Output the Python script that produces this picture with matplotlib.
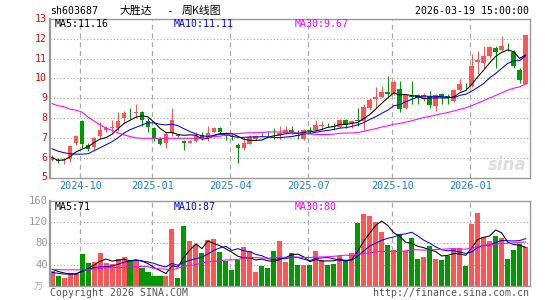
import matplotlib
matplotlib.use("Agg")
import matplotlib.pyplot as plt
import numpy as np
import pandas as pd

W, H = 545, 300

# weekly candles
opens = [5.87, 5.87, 5.87, 5.93, 6.73, 7.87, 6.65, 6.53, 7.07, 7.42,
         7.50, 7.50, 8.00, 8.28, 8.27, 8.33, 7.87, 7.48, 6.95, 6.73,
         7.23, 7.15, 6.82, 6.73, 6.83, 7.13, 7.00, 7.28, 7.48, 7.17,
         7.10, 6.62, 6.50, 6.70, 6.95, 7.15, 7.20, 7.17, 7.17, 7.25,
         7.42, 7.17, 6.93, 7.37, 7.40, 7.60, 7.66, 7.60, 7.53, 7.92,
         7.75, 7.88, 7.83, 8.50, 8.97, 9.07, 9.32, 9.23, 9.45, 8.50,
         9.10, 9.15, 9.03, 9.12, 8.62, 9.20, 9.12, 8.87, 9.40, 9.72,
         9.62, 10.85, 10.78, 11.12, 11.53, 11.45, 11.60, 11.33, 10.45, 9.73]
highs = [6.12, 6.00, 5.98, 6.62, 7.17, 7.90, 6.73, 7.03, 7.78, 7.62,
         7.90, 8.33, 8.37, 8.53, 8.73, 8.37, 8.00, 7.53, 7.03, 7.28,
         8.50, 7.20, 6.90, 6.90, 7.28, 7.28, 7.62, 7.57, 7.57, 7.28,
         7.20, 6.73, 7.05, 7.12, 7.17, 7.23, 7.37, 7.50, 7.62, 7.62,
         7.62, 7.42, 7.45, 7.57, 7.92, 7.87, 7.75, 7.73, 7.95, 7.95,
         7.92, 8.53, 8.73, 9.00, 9.57, 9.62, 10.12, 9.90, 9.87, 9.20,
         9.87, 9.20, 9.28, 9.37, 9.23, 9.28, 9.23, 9.45, 9.95, 9.78,
         11.23, 11.40, 11.62, 11.62, 11.62, 12.12, 11.78, 11.45, 10.53, 12.17]
lows = [5.83, 5.73, 5.70, 5.78, 6.62, 6.50, 6.33, 6.40, 6.95, 7.28,
        7.28, 7.37, 7.73, 7.95, 8.00, 7.62, 7.28, 6.83, 6.62, 6.50,
        7.07, 7.03, 6.37, 6.73, 6.78, 6.87, 6.83, 7.28, 7.20, 6.87,
        6.87, 5.73, 6.40, 6.67, 6.90, 7.07, 7.07, 6.95, 6.95, 7.20,
        7.20, 6.92, 6.87, 7.23, 7.37, 7.45, 7.53, 7.40, 7.50, 7.50,
        7.50, 7.62, 7.42, 8.42, 8.50, 9.03, 9.03, 9.17, 8.33, 8.45,
        8.73, 8.73, 8.87, 8.53, 8.37, 8.73, 8.73, 8.83, 9.37, 9.40,
        9.57, 10.20, 10.53, 11.03, 10.53, 11.40, 11.37, 10.53, 9.78, 9.70]
closes = [6.02, 5.82, 5.95, 6.57, 7.10, 6.70, 6.45, 7.00, 7.42, 7.50,
          7.55, 7.87, 8.27, 8.25, 8.30, 7.90, 7.57, 6.95, 6.70, 7.20,
          7.92, 7.10, 6.73, 6.82, 7.07, 7.00, 7.25, 7.48, 7.28, 7.10,
          7.03, 6.50, 6.73, 7.03, 7.07, 7.13, 7.18, 7.12, 7.23, 7.42,
          7.28, 7.07, 7.42, 7.35, 7.65, 7.63, 7.63, 7.57, 7.92, 7.67,
          7.87, 7.85, 8.57, 8.92, 9.07, 9.32, 9.20, 9.82, 8.45, 9.15,
          9.05, 9.03, 9.17, 8.67, 9.15, 9.07, 9.03, 9.40, 9.73, 9.70,
          10.62, 10.92, 11.12, 11.57, 11.33, 11.62, 11.57, 10.65, 9.90, 12.17]
# volume, 万手
volumes = [27.7, 18.9, 14.5, 24.6, 22.0, 59.8, 42.8, 44.7, 61.7, 42.8,
           40.3, 51.0, 54.2, 47.2, 47.2, 34.0, 25.8, 18.3, 18.3, 18.3,
           107.0, 14.5, 112.8, 84.4, 76.9, 61.7, 86.3, 88.8, 63.6, 47.2,
           29.6, 49.1, 73.0, 65.5, 25.8, 37.8, 33.4, 65.5, 85.0, 45.4,
           62.4, 39.7, 39.7, 39.7, 66.0, 48.5, 39.7, 41.6, 56.0, 47.9,
           62.4, 119.0, 136.0, 132.0, 121.0, 102.0, 77.5, 68.0, 98.0, 65.0,
           90.7, 51.0, 54.8, 75.6, 51.0, 48.5, 56.7, 71.8, 71.8, 37.8,
           117.0, 138.0, 92.0, 85.0, 94.5, 90.0, 51.0, 68.0, 79.4, 73.7]

# averages before the window has enough weeks
ma5_head = [6.00, 5.87, 5.88, 6.05]
ma10_head = [6.45, 6.33, 6.25, 6.20, 6.18, 6.18, 6.20, 6.35, 6.50]
ma30_head = [8.73, 8.62, 8.57, 8.45, 8.40, 8.30, 8.05, 7.85, 7.65, 7.50,
             7.38, 7.25, 7.15, 7.07, 7.00, 6.98, 6.98, 6.98, 6.98, 6.98,
             6.98, 6.98, 6.98, 6.98, 6.98, 6.98, 7.00, 7.07, 7.08]
vma5_head = [31, 27, 24, 22]
vma10_head = [25, 23.5, 22, 22, 23, 27, 31, 34, 35.5]
vma30_head = [31, 30.5, 30, 30, 30, 30, 30, 30.5, 33, 34,
              34, 34, 35, 36, 36, 36.5, 36, 33, 32, 31,
              30, 33, 37, 38, 40, 43, 45, 46, 47]

tick_pos = [5, 17, 30, 43, 57, 70]
tick_labels = ['2024-10', '2025-01', '2025-04', '2025-07', '2025-10', '2026-01']

RED = '#ff5555'
GREEN = '#009900'
GRID = '#aaaaaa'
MONO = 'DejaVu Sans Mono'
LW = 0.75


def moving(vals, n, head):
    s = pd.Series(vals, dtype=float).rolling(n).mean().to_numpy()
    s[:len(head)] = head
    return s


def px_axes(fig, x0, y0, x1, y1):
    return fig.add_axes([x0 / W, 1 - y1 / H, (x1 - x0) / W, (y1 - y0) / H])


def ftext(fig, x, y, s, **kw):
    kw.setdefault('family', MONO)
    kw.setdefault('fontsize', 7.1)
    kw.setdefault('va', 'center')
    fig.text(x / W, 1 - y / H, s, **kw)


o = np.array(opens); c = np.array(closes)
hi = np.array(highs); lo = np.array(lows)
v = np.array(volumes)
idx = np.arange(len(c))
up = c >= o
cols = np.where(up, RED, GREEN)

fig = plt.figure(figsize=(W / 100, H / 100), dpi=100)

ax = px_axes(fig, 50, 19, 529.5, 177.5)
ax.vlines(idx, lo, hi, colors=cols, lw=LW)
body_h = np.maximum(np.abs(c - o), 0.03)
ax.bar(idx, body_h, bottom=np.minimum(o, c), width=0.8, color=cols, lw=0)
ax.plot(idx, moving(c, 5, ma5_head), color='black', lw=LW)
ax.plot(idx, moving(c, 10, ma10_head), color='#0000ff', lw=LW)
ax.plot(idx, moving(c, 30, ma30_head), color='#ff00ff', lw=LW)
ax.set_xlim(-0.35, 79.65)
ax.set_ylim(5, 13)
for p in range(6, 13):
    ax.axhline(p, color=GRID, lw=0.8, ls=(0, (1, 2)), zorder=0)

axv = px_axes(fig, 50, 201, 529.5, 285.7)
axv.bar(idx, v, width=0.84, color=cols, lw=0)
axv.plot(idx, moving(v, 5, vma5_head), color='black', lw=LW)
axv.plot(idx, moving(v, 10, vma10_head), color='#0000ff', lw=LW)
axv.plot(idx, moving(v, 30, vma30_head), color='#ff00ff', lw=LW)
axv.set_xlim(-0.35, 79.65)
axv.set_ylim(0, 160)
for q in (40, 80, 120):
    axv.axhline(q, color=GRID, lw=0.8, ls=(0, (1, 2)), zorder=0)

for a in (ax, axv):
    for t in tick_pos:
        a.axvline(t - 0.3, color=GRID, lw=0.9, ls=(0, (4, 3)), zorder=0)
    a.set_xticks([]); a.set_yticks([])
    for sp in a.spines.values():
        sp.set_color('#999999'); sp.set_linewidth(1.0)
    a.spines['left'].set_linewidth(1.6)

# price labels
for p in range(5, 14):
    ftext(fig, 47, 177.5 - (p - 5) * (158.5 / 8), str(p), color='#ee0000', ha='right')
for q in (40, 80, 120, 160):
    ftext(fig, 48, 285.7 - q * (84.7 / 160), str(q), color='#999999', ha='right', fontsize=7.6)
ftext(fig, 43, 287, '万', color='#aaaaaa', ha='right', family=['Noto Sans CJK SC', 'DejaVu Sans'], fontsize=6.5)

for t, lab in zip(tick_pos, tick_labels):
    ftext(fig, 52 + 6 * (t - 0.3), 186, lab, color='#1a7fd4', ha='center', fontsize=7.3)

# header
ftext(fig, 50, 11.5, 'sh603687', color='black')
cjk = ['Noto Sans CJK SC', 'DejaVu Sans']
ftext(fig, 120, 11, '大胜达', color='black', family=cjk, fontsize=7.8)
ftext(fig, 166, 11, '-', color='black', fontsize=7.8)
ftext(fig, 182, 11, '周K线图', color='black', family=cjk, fontsize=7.8)
ftext(fig, 529, 11.5, '2026-03-19 15:00:00', color='black', ha='right')

ftext(fig, 55, 24, 'MA5:11.16', color='black')
ftext(fig, 174, 24, 'MA10:11.11', color='#0000ff')
ftext(fig, 295, 24, 'MA30:9.67', color='#ff00ff')

ftext(fig, 55, 207, 'MA5:71', color='black')
ftext(fig, 174, 207, 'MA10:87', color='#0000ff')
ftext(fig, 295, 207, 'MA30:80', color='#ff00ff')

ftext(fig, 50, 293, 'Copyright 2026 SINA.COM', color='#555555')
ftext(fig, 529, 293, 'http://finance.sina.com.cn', color='#555555', ha='right')

# faint sina mark
ftext(fig, 527, 165, 'sina', color='#dddddd', ha='right', family='DejaVu Sans',
      fontsize=12, fontweight='bold', style='italic')

fig.savefig('out.png', dpi=100)
